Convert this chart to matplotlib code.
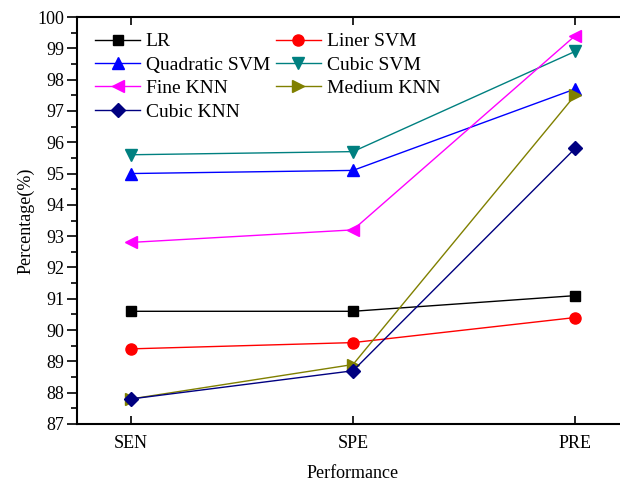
import matplotlib
matplotlib.use("Agg")
import matplotlib.pyplot as plt
from matplotlib.ticker import MultipleLocator

plt.rcParams['font.family'] = ['Liberation Serif', 'DejaVu Serif']

categories = ["SEN", "SPE", "PRE"]
lr = [90.6, 90.6, 91.1]
liner_svm = [89.4, 89.6, 90.4]
quad_svm = [95.0, 95.1, 97.7]
cubic_svm = [95.6, 95.7, 98.9]
fine_knn = [92.8, 93.2, 99.4]
medium_knn = [87.8, 88.9, 97.5]
cubic_knn = [87.8, 88.7, 95.8]

series = [
    ("LR", lr, "black", "s", 7),
    ("Liner SVM", liner_svm, "red", "o", 8),
    ("Quadratic SVM", quad_svm, "blue", "^", 8),
    ("Cubic SVM", cubic_svm, "#008080", "v", 8),
    ("Fine KNN", fine_knn, "magenta", "<", 8),
    ("Medium KNN", medium_knn, "#808000", ">", 8),
    ("Cubic KNN", cubic_knn, "#000080", "D", 7),
]

fig = plt.figure(figsize=(6.2, 4.82), dpi=100)
ax = fig.add_axes([77/620, 58/482, 552/620, 407/482])

x = list(range(len(categories)))
handles = []
for name, vals, col, mk, ms in series:
    h, = ax.plot(x, vals, color=col, marker=mk, markersize=ms, linewidth=1, label=name)
    handles.append(h)

ax.set_xlim(-0.243, 2.243)
ax.set_ylim(87, 100)
ax.set_xticks(x)
ax.set_xticklabels(categories)
ax.yaxis.set_major_locator(MultipleLocator(1))
ax.yaxis.set_minor_locator(MultipleLocator(0.5))
ax.tick_params(axis='y', which='major', direction='out', length=7, width=1.2, labelsize=13, pad=2)
ax.tick_params(axis='y', which='minor', direction='out', length=4, width=1.2)
ax.tick_params(axis='x', which='major', direction='in', length=6, width=1.2, labelsize=13, top=True, pad=8)
for s in ax.spines.values():
    s.set_linewidth(1.5)

ax.set_xlabel("Performance", fontsize=13, labelpad=9)
ax.set_ylabel("Percentage(%)", fontsize=13, labelpad=2)

# row-major order for a 2-column legend
order = [0, 2, 4, 6, 1, 3, 5]
ax.legend([handles[i] for i in order], [series[i][0] for i in order],
          loc="upper left", ncol=2, frameon=False, fontsize=14,
          bbox_to_anchor=(0.012, 0.99), handlelength=2.3, handletextpad=0.3,
          columnspacing=0.3, labelspacing=0.3, borderaxespad=0.2)

fig.savefig("out.png", dpi=100)
